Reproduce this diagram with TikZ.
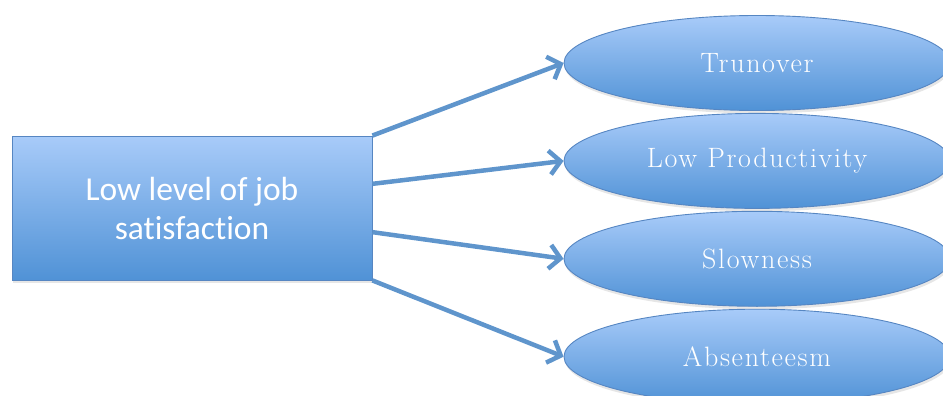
\documentclass[tikz,border=0pt]{standalone}
\usepackage{fontspec}
\newfontfamily\boxfont[Ligatures=NoCommon]{Carlito}
\newfontfamily\ellfont[LetterSpace=6]{Latin Modern Roman}
\usetikzlibrary{shapes, positioning, calc, arrows.meta, shadows}

\definecolor{boxtop}{HTML}{A8CBF9}
\definecolor{boxbottom}{HTML}{5092D6}
\definecolor{boxline}{HTML}{5686C2}
\definecolor{arrowblue}{HTML}{5F95CC}

\begin{document}
\begin{tikzpicture}[x=1pt, y=1pt]
  \newcommand\effspacing{2pt}

  \tikzset{ptr/.style={-{Straight Barb[length=11pt, width=24pt]}, line width=4.5pt, draw=arrowblue}}

  \tikzset{bluefill/.style={draw=boxline, line width=0.9pt, top color=boxtop, bottom color=boxbottom, text=white, drop shadow={opacity=0.2, shadow xshift=1pt, shadow yshift=-3pt}}}
  \tikzset{causebox/.style={bluefill, rectangle, minimum width=360pt, minimum height=144pt, align=center, font=\boxfont\fontsize{33.5}{39}\selectfont}}
  \tikzset{effectell/.style={bluefill, ellipse, inner sep=0pt, minimum width=386pt, minimum height=95pt, font=\ellfont\fontsize{28}{32}\selectfont}}

  \useasboundingbox (0,0) rectangle (943,-396);

  \node[causebox] at (192,-208) (cause) {Low level of job\\satisfaction};

  \node[effectell] at (757,-63) (eff1) {Trunover};
  \foreach \txt [count=\idx from 2, count=\previdx from 1] in {Low Productivity, Slowness, Absenteesm}{
    \node[effectell, below=\effspacing of eff\previdx] (eff\idx) {\txt};
  }

  % one arrow per effect, spread down the right side of the box
  \foreach \pos [count=\idx] in {0, 0.3333, 0.6667, 1}{
    \draw[ptr] ($(cause.north east)!\pos!(cause.south east)$) -- (eff\idx.west);
  }
\end{tikzpicture}
\end{document}
